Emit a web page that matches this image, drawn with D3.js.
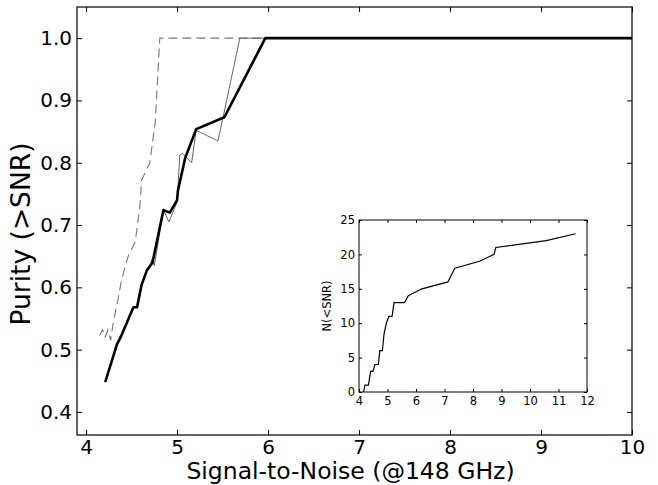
<!DOCTYPE html>
<html>
<head>
<meta charset="utf-8">
<script src="https://cdn.jsdelivr.net/npm/d3@7"></script>
<style>
  html, body { margin: 0; padding: 0; background: #fff; }
  svg { display: block; font-family: "DejaVu Sans", sans-serif; }
</style>
</head>
<body>
<svg id="chart" width="658" height="485"></svg>
<script>
// ---- Data ----
const snrThick = [4.21, 4.34, 4.38, 4.52, 4.56, 4.61, 4.67, 4.73, 4.85, 4.92, 5.00, 5.01, 5.09, 5.21, 5.52, 5.97, 10];
const purThick = [0.448, 0.509, 0.520, 0.568, 0.568, 0.604, 0.628, 0.640, 0.724, 0.720, 0.740, 0.756, 0.808, 0.854, 0.873, 1.0, 1.0];

const snrThin = [4.21, 4.34, 4.38, 4.52, 4.56, 4.61, 4.67, 4.70, 4.72, 4.75, 4.85, 4.88, 4.91, 5.00, 5.03, 5.06, 5.16, 5.21, 5.45, 5.69, 10];
const purThin = [0.448, 0.509, 0.520, 0.568, 0.568, 0.604, 0.628, 0.630, 0.645, 0.635, 0.724, 0.715, 0.705, 0.737, 0.812, 0.815, 0.800, 0.852, 0.835, 1.0, 1.0];

const snrDash = [4.15, 4.18, 4.21, 4.24, 4.27, 4.30, 4.35, 4.39, 4.46, 4.54, 4.59, 4.61, 4.70, 4.76, 4.81, 10];
const purDash = [0.523, 0.532, 0.520, 0.532, 0.515, 0.545, 0.580, 0.612, 0.649, 0.673, 0.729, 0.772, 0.800, 0.865, 1.0, 1.0];

const insetSnr = [4.16, 4.21, 4.33, 4.41, 4.49, 4.56, 4.68, 4.73, 4.82, 4.88, 4.96, 5.05, 5.16, 5.23, 5.60, 5.73, 6.21, 7.12, 7.36, 8.23, 8.74, 8.80, 10.57, 11.6];
const insetN   = [0, 1, 1, 3, 3, 4, 4, 6, 6, 8.5, 10, 11, 11, 13, 13, 14, 15, 16, 18, 19, 20, 21, 22, 23];

const xTicks = [4, 5, 6, 7, 8, 9, 10];
const yTicks = [0.4, 0.5, 0.6, 0.7, 0.8, 0.9, 1.0];
const insetXTicks = [4, 5, 6, 7, 8, 9, 10, 11, 12];
const insetYTicks = [0, 5, 10, 15, 20, 25];

const xTitle = "Signal-to-Noise (@148 GHz)";
const yTitle = "Purity (>SNR)";
const insetYTitle = "N(<SNR)";

// ---- Layout ----
const svg = d3.select("#chart");
const M = { left: 77, right: 632, top: 7, bottom: 435 };

const x = d3.scaleLinear().domain([3.9, 10]).range([M.left, M.right]);
const y = d3.scaleLinear().domain([0.363, 1.05]).range([M.bottom, M.top]);

const zip = (a, b) => a.map((v, i) => [v, b[i]]);
const line = d3.line().x(d => x(d[0])).y(d => y(d[1]));

const tickFont = 20;

function styleAxis(g, fs) {
  g.select(".domain").remove();
  g.selectAll(".tick line").attr("stroke", "#000").attr("stroke-width", 1);
  g.selectAll(".tick text").attr("fill", "#000").attr("font-size", fs).attr("font-family", "DejaVu Sans, sans-serif");
}

// main axes
svg.append("g").attr("transform", `translate(0,${M.bottom})`)
  .call(d3.axisBottom(x).tickValues(xTicks).tickFormat(d3.format("d")).tickSize(-5).tickPadding(5))
  .call(g => styleAxis(g, tickFont));
svg.append("g").attr("transform", `translate(0,${M.top})`)
  .call(d3.axisTop(x).tickValues(xTicks).tickSize(-5).tickFormat(""))
  .call(g => styleAxis(g, tickFont));
svg.append("g").attr("transform", `translate(${M.left},0)`)
  .call(d3.axisLeft(y).tickValues(yTicks).tickFormat(d3.format(".1f")).tickSize(-5).tickPadding(5))
  .call(g => styleAxis(g, tickFont));
svg.append("g").attr("transform", `translate(${M.right},0)`)
  .call(d3.axisRight(y).tickValues(yTicks).tickSize(-5).tickFormat(""))
  .call(g => styleAxis(g, tickFont));

// lines (clip to plot)
svg.append("defs").append("clipPath").attr("id", "clipMain")
  .append("rect").attr("x", M.left).attr("y", M.top).attr("width", M.right - M.left).attr("height", M.bottom - M.top);

const plot = svg.append("g").attr("clip-path", "url(#clipMain)");
plot.append("path").datum(zip(snrDash, purDash)).attr("d", line)
  .attr("fill", "none").attr("stroke", "#777").attr("stroke-width", 1.1).attr("stroke-dasharray", "9,5");
plot.append("path").datum(zip(snrThin, purThin)).attr("d", line)
  .attr("fill", "none").attr("stroke", "#666").attr("stroke-width", 1);
plot.append("path").datum(zip(snrThick, purThick)).attr("d", line)
  .attr("fill", "none").attr("stroke", "#000").attr("stroke-width", 2.6).attr("stroke-linejoin", "round");

// frame
svg.append("rect").attr("x", M.left).attr("y", M.top).attr("width", M.right - M.left).attr("height", M.bottom - M.top)
  .attr("fill", "none").attr("stroke", "#000").attr("stroke-width", 1.2);

// titles
svg.append("text").attr("x", (M.left + M.right) / 2 - 4).attr("y", 479)
  .attr("text-anchor", "middle").attr("font-size", 23.5).attr("fill", "#000").text(xTitle);
svg.append("text").attr("transform", `translate(30,234) rotate(-90)`)
  .attr("text-anchor", "middle").attr("font-size", 26.5).attr("fill", "#000").text(yTitle);

// ---- Inset ----
const I = { left: 359, right: 587, top: 220, bottom: 392 };
const ix = d3.scaleLinear().domain([4, 12]).range([I.left, I.right]);
const iy = d3.scaleLinear().domain([0, 25]).range([I.bottom, I.top]);
const iline = d3.line().x(d => ix(d[0])).y(d => iy(d[1]));
const insetFont = 11.5;

svg.append("rect").attr("x", I.left).attr("y", I.top).attr("width", I.right - I.left).attr("height", I.bottom - I.top)
  .attr("fill", "#fff").attr("stroke", "none");

svg.append("g").attr("transform", `translate(0,${I.bottom})`)
  .call(d3.axisBottom(ix).tickValues(insetXTicks).tickFormat(d3.format("d")).tickSize(-3).tickPadding(5))
  .call(g => styleAxis(g, insetFont));
svg.append("g").attr("transform", `translate(0,${I.top})`)
  .call(d3.axisTop(ix).tickValues(insetXTicks).tickSize(-3).tickFormat(""))
  .call(g => styleAxis(g, insetFont));
svg.append("g").attr("transform", `translate(${I.left},0)`)
  .call(d3.axisLeft(iy).tickValues(insetYTicks).tickFormat(d3.format("d")).tickSize(-3).tickPadding(4))
  .call(g => styleAxis(g, insetFont));
svg.append("g").attr("transform", `translate(${I.right},0)`)
  .call(d3.axisRight(iy).tickValues(insetYTicks).tickSize(-3).tickFormat(""))
  .call(g => styleAxis(g, insetFont));

svg.append("path").datum(zip(insetSnr, insetN)).attr("d", iline)
  .attr("fill", "none").attr("stroke", "#000").attr("stroke-width", 1.2);

svg.append("rect").attr("x", I.left).attr("y", I.top).attr("width", I.right - I.left).attr("height", I.bottom - I.top)
  .attr("fill", "none").attr("stroke", "#000").attr("stroke-width", 1);

svg.append("text").attr("transform", `translate(331,${(I.top + I.bottom) / 2}) rotate(-90)`)
  .attr("text-anchor", "middle").attr("font-size", 11.5).attr("fill", "#000").text(insetYTitle);
</script>
</body>
</html>
